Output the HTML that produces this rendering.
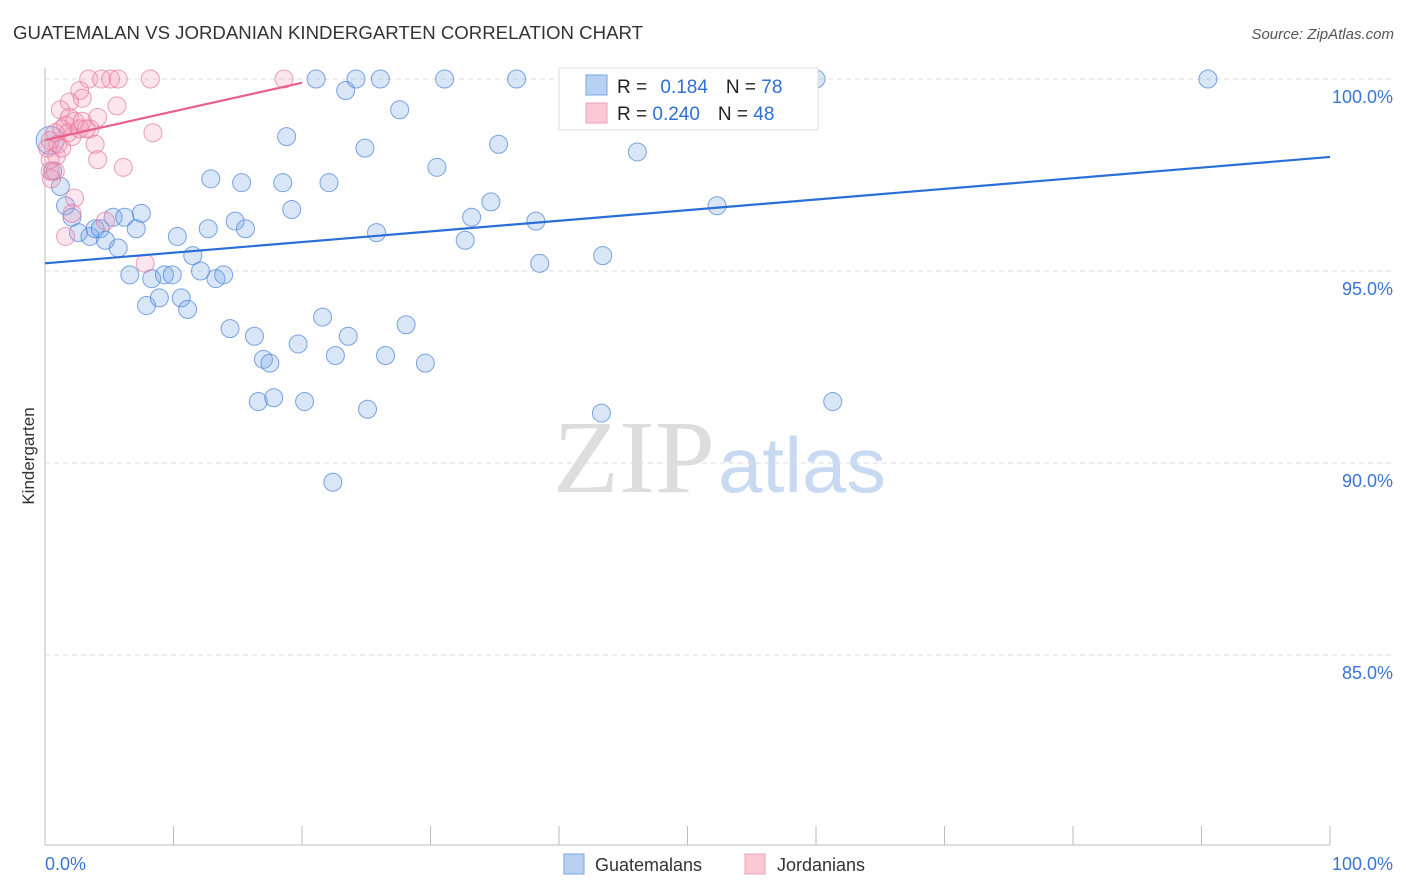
<!DOCTYPE html>
<html><head><meta charset="utf-8"><style>
body{margin:0;background:#fff;font-family:"Liberation Sans",sans-serif}
svg{display:block}
</style></head><body>
<svg id="chart" width="1406" height="892">
<text x="13" y="39" font-size="18" fill="#333" textLength="630" lengthAdjust="spacingAndGlyphs">GUATEMALAN VS JORDANIAN KINDERGARTEN CORRELATION CHART</text>
<text x="1394" y="39" font-size="15" fill="#555" font-style="italic" text-anchor="end">Source: ZipAtlas.com</text>
<text x="34" y="456" font-size="17" fill="#333" text-anchor="middle" transform="rotate(-90 34 456)">Kindergarten</text>
<text x="553" y="492" font-size="104" fill="#ddd" font-family="Liberation Serif,serif" textLength="162" lengthAdjust="spacingAndGlyphs">ZIP</text>
<text x="718" y="492" font-size="78" fill="#c8daf2" textLength="168" lengthAdjust="spacingAndGlyphs">atlas</text>
<g id="grid"></g><g id="ticks"></g><g id="pts"></g><g id="lines"></g>
<g>
<rect x="559" y="68" width="259" height="62" fill="#fff" stroke="#ddd"/>
<rect x="586" y="75" width="21" height="20" fill="#b8d0f2" stroke="#7aa6e0"/>
<rect x="586" y="103" width="21" height="20" fill="#fbc8d6" stroke="#eea0b8"/>
<text x="617" y="93" font-size="19" fill="#222">R = <tspan fill="#2f6fd0" dx="8">0.184</tspan><tspan dx="18" fill="#222">N = </tspan><tspan fill="#2f6fd0">78</tspan></text>
<text x="617" y="120" font-size="19" fill="#222">R = <tspan fill="#2f6fd0">0.240</tspan><tspan dx="18" fill="#222">N = </tspan><tspan fill="#2f6fd0">48</tspan></text>
</g>
<g>
<rect x="564" y="854" width="20" height="20" fill="#b8d0f2" stroke="#7aa6e0"/>
<text x="595" y="871" font-size="18" fill="#333">Guatemalans</text>
<rect x="745" y="854" width="20" height="20" fill="#fbc8d6" stroke="#eea0b8"/>
<text x="777" y="871" font-size="18" fill="#333">Jordanians</text>
</g>
</svg>
<script>
const yTicks=[100,95,90,85];
const yTickLabels=["100.0%","95.0%","90.0%","85.0%"];
const blueX=[21.1,24.2,26.1,31.1,36.7,58.6,60.0,90.5,23.4,27.6,18.8,24.9,35.3,46.1,30.5,1.2,0.6,1.6,2.1,2.6,3.5,3.9,4.3,4.7,5.7,5.3,6.2,7.1,7.5,6.6,8.3,7.9,8.9,9.3,9.9,10.6,11.1,10.3,11.5,12.1,12.9,12.7,13.3,13.9,14.8,15.3,15.6,14.4,16.3,17.0,17.5,16.6,17.8,18.5,19.2,19.7,20.2,21.6,22.1,22.6,23.6,25.1,25.8,26.5,28.1,29.6,22.4,32.7,33.2,34.7,38.2,38.5,43.4,43.3,52.3,61.3,0.4];
const blueY=[100,100,100,100,100,100,100,100,99.7,99.2,98.5,98.2,98.3,98.1,97.7,97.2,97.6,96.7,96.4,96.0,95.9,96.1,96.1,95.8,95.6,96.4,96.4,96.1,96.5,94.9,94.8,94.1,94.3,94.9,94.9,94.3,94.0,95.9,95.4,95.0,97.4,96.1,94.8,94.9,96.3,97.3,96.1,93.5,93.3,92.7,92.6,91.6,91.7,97.3,96.6,93.1,91.6,93.8,97.3,92.8,93.3,91.4,96.0,92.8,93.6,92.6,89.5,95.8,96.4,96.8,96.3,95.2,95.4,91.3,96.7,91.6,98.4];
const pinkX=[3.4,4.4,5.1,5.7,8.2,18.6,2.7,2.9,1.9,5.6,1.2,1.9,4.1,1.6,2.3,2.9,3.5,8.4,0.8,1.3,2.1,0.4,1.0,3.9,0.2,0.9,4.1,6.1,0.4,0.8,0.5,2.3,2.1,4.7,1.6,7.8,0.4,1.3,1.8,2.7,3.2];
const pinkY=[100,100,100,100,100,100,99.7,99.5,99.4,99.3,99.2,99.0,99.0,98.8,98.9,98.9,98.7,98.6,98.6,98.7,98.5,98.4,98.3,98.3,98.2,98.0,97.9,97.7,97.6,97.6,97.4,96.9,96.5,96.3,95.9,95.2,97.9,98.2,98.6,98.7,98.7];
const blueTrend=[[0,95.2],[100,97.97]];
const pinkTrend=[[0,98.41],[20,99.9]];
const NS="http://www.w3.org/2000/svg";
const sx=v=>45+v*12.85, sy=v=>79+(100-v)*38.4;
function mk(tag,attrs,parent){const e=document.createElementNS(NS,tag);for(const k in attrs)e.setAttribute(k,attrs[k]);document.getElementById(parent).appendChild(e);return e;}
yTicks.forEach((t,i)=>{
 const l=mk('line',{x1:45,x2:1394,y1:sy(t),y2:sy(t),stroke:'#ddd','stroke-dasharray':'5,4'},'grid');
 
 
 const tx=mk('text',{x:1393,y:sy(t)+24,'font-size':18,fill:'#3a75d4','text-anchor':'end'},'grid');
 tx.textContent=yTickLabels[i];
 
 
});
let ax=mk('line',{x1:45,x2:45,y1:68,y2:845,stroke:'#bbb'},'ticks');


let bx=mk('line',{x1:45,x2:1330,y1:845,y2:845,stroke:'#bbb'},'ticks');


for(let i=0;i<=10;i++){const t=mk('line',{x1:sx(i*10),x2:sx(i*10),y1:826,y2:845,stroke:'#bbb'},'ticks');
 
 }
[["0.0%",45,'start'],["100.0%",1393,'end']].forEach(a=>{const t=mk('text',{x:a[1],y:870,'font-size':18,fill:'#3a75d4','text-anchor':a[2]},'ticks');t.textContent=a[0];
 
 });
function pts(X,Y,fill,stroke,name){X.forEach((x,i)=>{const r=(x<0.5&&name=='blue-point')?14:9;
 const c=mk('circle',{cx:sx(x),cy:sy(Y[i]),r:r,fill:fill,stroke:stroke,'stroke-width':1},'pts');
 
 });}
pts(blueX,blueY,'rgba(120,165,230,0.28)','rgba(80,135,215,0.75)','blue-point');
pts(pinkX,pinkY,'rgba(245,150,178,0.25)','rgba(230,120,160,0.7)','pink-point');
function trend(T,c,name){const l=mk('line',{x1:sx(T[0][0]),y1:sy(T[0][1]),x2:sx(T[1][0]),y2:sy(T[1][1]),stroke:c,'stroke-width':2.2},'lines');
 
 }
trend(blueTrend,'#2a6fd6','blue-trend-line');
trend(pinkTrend,'#e8608a','pink-trend-line');
</script>
</body></html>
